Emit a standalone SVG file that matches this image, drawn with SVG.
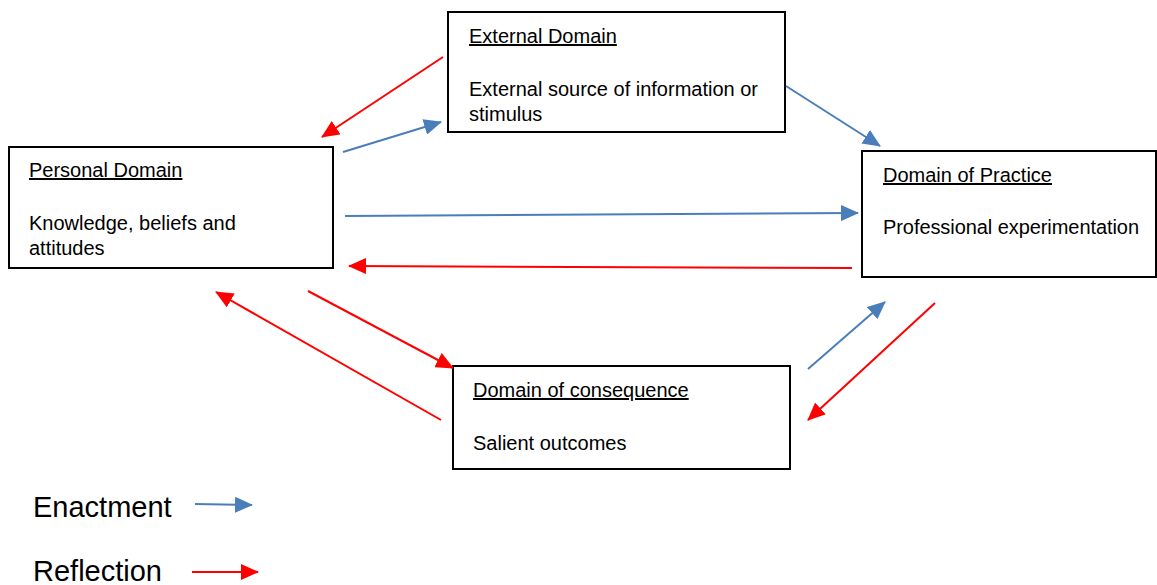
<svg xmlns="http://www.w3.org/2000/svg" width="1157" height="585" viewBox="0 0 1157 585">
<style>
.box{fill:#fff;stroke:#000;stroke-width:2}
.t{font-family:"Liberation Sans",Arial,sans-serif;font-size:20px;fill:#000}
.h{text-decoration:underline}
.lg{font-family:"Liberation Sans",Arial,sans-serif;font-size:29px;fill:#000}
.blue{stroke:#4a7ebb;stroke-width:2;fill:none;marker-end:url(#ab)}
.red{stroke:#ff0000;stroke-width:2;fill:none;marker-end:url(#ar)}
</style>
<defs>
<marker id="ab" markerUnits="userSpaceOnUse" markerWidth="19" markerHeight="16" refX="17" refY="8" orient="auto">
<path d="M0,0 L18,8 L0,16 Z" fill="#4a7ebb"/>
</marker>
<marker id="ar" markerUnits="userSpaceOnUse" markerWidth="19" markerHeight="16" refX="17" refY="8" orient="auto">
<path d="M0,0 L18,8 L0,16 Z" fill="#ff0000"/>
</marker>
</defs>
<rect width="1157" height="585" fill="#fff"/>
<g id="external">
<rect class="box" x="448" y="12" width="337" height="120"/>
<text class="t h" x="469" y="43">External Domain</text>
<text class="t" x="469" y="96">External source of information or</text>
<text class="t" x="469" y="121">stimulus</text>
</g>
<g id="personal">
<rect class="box" x="9" y="147" width="324" height="121"/>
<text class="t h" x="29" y="177">Personal Domain</text>
<text class="t" x="29" y="230">Knowledge, beliefs and</text>
<text class="t" x="29" y="255">attitudes</text>
</g>
<g id="practice">
<rect class="box" x="862" y="151" width="294" height="126"/>
<text class="t h" x="883" y="182">Domain of Practice</text>
<text class="t" x="883" y="234" textLength="256" lengthAdjust="spacing">Professional experimentation</text>
</g>
<g id="consequence">
<rect class="box" x="453" y="366" width="337" height="103"/>
<text class="t h" x="473" y="397">Domain of consequence</text>
<text class="t" x="473" y="450">Salient outcomes</text>
</g>
<g id="connectors">
<line class="red" x1="443" y1="57" x2="322" y2="137"/>
<line class="blue" x1="343" y1="152" x2="441" y2="122"/>
<line class="blue" x1="786" y1="86" x2="880" y2="146"/>
<line class="blue" x1="345" y1="216" x2="858" y2="213"/>
<line class="red" x1="852" y1="268" x2="349" y2="266"/>
<line class="red" x1="308" y1="291" x2="453" y2="368"/>
<line class="red" x1="441" y1="420" x2="216" y2="292"/>
<line class="blue" x1="808" y1="369" x2="885" y2="302"/>
<line class="red" x1="935" y1="303" x2="808" y2="420"/>
</g>
<g id="legend">
<text class="lg" x="33" y="517">Enactment</text>
<line class="blue" x1="195" y1="504" x2="252" y2="505"/>
<text class="lg" x="33" y="581">Reflection</text>
<line class="red" x1="192" y1="572" x2="258" y2="572"/>
</g>
</svg>
